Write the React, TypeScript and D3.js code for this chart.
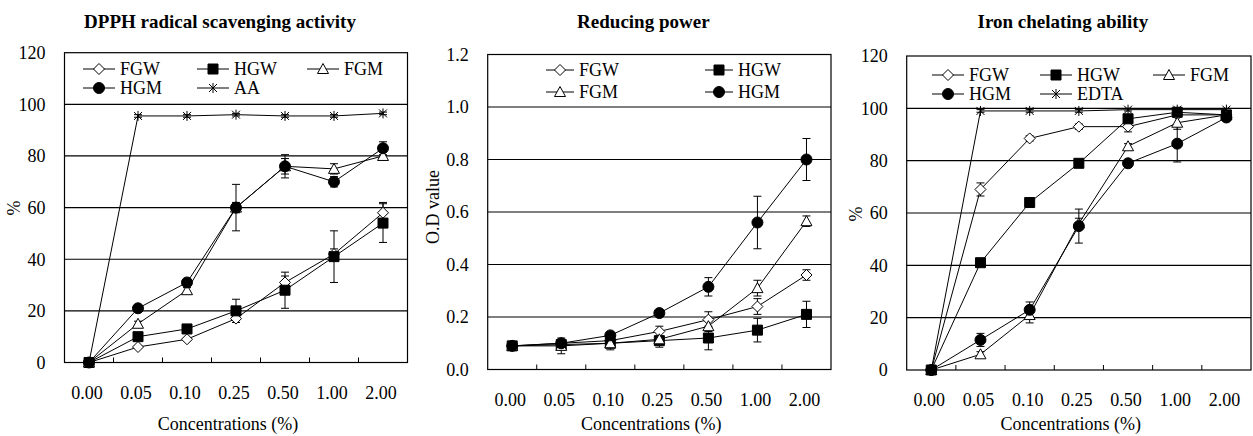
import React, { useEffect, useRef } from "react";
import * as d3 from "d3";

const concentrations = ["0.00", "0.05", "0.10", "0.25", "0.50", "1.00", "2.00"];

// DPPH radical scavenging activity (%)
const dpphFGW = [0, 6, 9, 17, 31, 42, 58];
const dpphHGW = [0, 10, 13, 20, 28, 41, 54];
const dpphFGM = [0, 15, 28, 60, 76, 75, 80];
const dpphHGM = [0, 21, 31, 60, 76, 70, 83];
const dpphAA = [0, 95.5, 95.5, 96, 95.5, 95.5, 96.5];
const dpphFGWErr = [0, 0.5, 0.5, 1.5, 2.5, 2, 4];
const dpphHGWErr = [0, 1, 1, 4.5, 7, 10, 7.5];
const dpphFGMErr = [0, 1, 1, 2, 3, 2, 1.5];
const dpphHGMErr = [0, 1, 1, 9, 4.5, 2, 2.5];
const dpphAAErr = [0, 0.5, 0.5, 0.5, 0.5, 0.5, 0.5];

// reducing power (O.D value)
const rpFGW = [0.09, 0.1, 0.11, 0.145, 0.19, 0.24, 0.36];
const rpHGW = [0.09, 0.095, 0.1, 0.11, 0.12, 0.15, 0.21];
const rpFGM = [0.09, 0.09, 0.1, 0.115, 0.165, 0.31, 0.565];
const rpHGM = [0.09, 0.1, 0.13, 0.215, 0.315, 0.56, 0.8];
const rpFGWErr = [0.01, 0.01, 0.01, 0.02, 0.03, 0.03, 0.02];
const rpHGWErr = [0.01, 0.01, 0.01, 0.01, 0.045, 0.045, 0.05];
const rpFGMErr = [0.01, 0.03, 0.025, 0.03, 0.02, 0.03, 0.02];
const rpHGMErr = [0.01, 0.01, 0.01, 0.01, 0.035, 0.1, 0.08];

// iron chelating ability (%)
const icFGW = [0, 69, 88.5, 93, 93, 97.5, 97.5];
const icHGW = [0, 41, 64, 79, 96, 98.5, 97.5];
const icFGM = [0, 6, 21, 56, 85.5, 94.5, 97.5];
const icHGM = [0, 11.5, 23, 55, 79, 86.5, 96.5];
const icEDTA = [0, 99, 99, 99, 99.5, 99.5, 99.5];
const icFGWErr = [0, 2.5, 1, 1, 2, 1, 1];
const icHGWErr = [0, 1, 1, 1, 1, 1, 1];
const icFGMErr = [0, 1, 3, 2, 1, 2.5, 1];
const icHGMErr = [0, 2.5, 3, 6.5, 1, 7, 1];
const icEDTAErr = [0, 0.5, 0.5, 0.5, 0.5, 0.5, 0.5];

const FONT = "'Liberation Serif', 'Times New Roman', serif";

const panels = [
  {
    title: "DPPH radical scavenging activity",
    yLabel: "%",
    yMax: 120,
    yStep: 20,
    yFormat: d3.format(".0f"),
    left: 64.5, right: 407.5, top: 52.7, bottom: 362.5,
    labelPos: [14, 208],
    legendCols: [83, 197, 307], legendRows: [69, 88], legendLine: 32,
    series: [
      { name: "FGW", marker: "diamond", values: dpphFGW, errors: dpphFGWErr },
      { name: "HGW", marker: "square", values: dpphHGW, errors: dpphHGWErr },
      { name: "FGM", marker: "triangle", values: dpphFGM, errors: dpphFGMErr },
      { name: "HGM", marker: "circle", values: dpphHGM, errors: dpphHGMErr },
      { name: "AA", marker: "asterisk", values: dpphAA, errors: dpphAAErr },
    ],
  },
  {
    title: "Reducing power",
    yLabel: "O.D value",
    yMax: 1.2,
    yStep: 0.2,
    yFormat: d3.format(".1f"),
    left: 487.7, right: 831, top: 54.5, bottom: 369.5,
    labelPos: [433, 207],
    legendCols: [546, 705], legendRows: [70, 92], legendLine: 28,
    series: [
      { name: "FGW", marker: "diamond", values: rpFGW, errors: rpFGWErr },
      { name: "HGW", marker: "square", values: rpHGW, errors: rpHGWErr },
      { name: "FGM", marker: "triangle", values: rpFGM, errors: rpFGMErr },
      { name: "HGM", marker: "circle", values: rpHGM, errors: rpHGMErr },
    ],
  },
  {
    title: "Iron chelating ability",
    yLabel: "%",
    yMax: 120,
    yStep: 20,
    yFormat: d3.format(".0f"),
    left: 906.7, right: 1251, top: 56, bottom: 370,
    labelPos: [856, 214],
    legendCols: [932, 1040, 1153], legendRows: [75, 94], legendLine: 32,
    series: [
      { name: "FGW", marker: "diamond", values: icFGW, errors: icFGWErr },
      { name: "HGW", marker: "square", values: icHGW, errors: icHGWErr },
      { name: "FGM", marker: "triangle", values: icFGM, errors: icFGMErr },
      { name: "HGM", marker: "circle", values: icHGM, errors: icHGMErr },
      { name: "EDTA", marker: "asterisk", values: icEDTA, errors: icEDTAErr },
    ],
  },
];

function markerPath(kind: string) {
  switch (kind) {
    case "diamond":
      return "M0,-5.5L5.5,0L0,5.5L-5.5,0Z";
    case "square":
      return "M-5,-5H5V5H-5Z";
    case "triangle":
      return "M0,-5.5L5.5,4.5H-5.5Z";
    case "circle":
      return d3.symbol(d3.symbolCircle, 95)();
    default:
      return "M-4,-4L4,4M-4,4L4,-4M0,-5V5";
  }
}

function drawMarker(g: any, kind: string, cx: number, cy: number) {
  const filled = kind === "square" || kind === "circle";
  g.append("path")
    .attr("d", markerPath(kind))
    .attr("transform", `translate(${cx},${cy})`)
    .attr("fill", filled ? "#000" : kind === "asterisk" ? "none" : "#fff")
    .attr("stroke", "#000")
    .attr("stroke-width", 1);
}

function drawPanel(svg: any, p: any) {
  const x = d3.scaleBand().domain(concentrations).range([p.left, p.right]);
  const y = d3.scaleLinear().domain([0, p.yMax]).range([p.bottom, p.top]);
  const cx = (c: string) => (x(c) as number) + x.bandwidth() / 2;
  const g = svg.append("g");
  const ticks = d3.range(0, p.yMax + p.yStep / 2, p.yStep);

  // gridlines
  g.selectAll(".grid")
    .data(ticks.slice(1, -1))
    .join("line")
    .attr("x1", p.left)
    .attr("x2", p.right)
    .attr("y1", (d: number) => y(d))
    .attr("y2", (d: number) => y(d))
    .attr("stroke", "#000")
    .attr("stroke-width", 1.2);

  g.append("rect")
    .attr("x", p.left)
    .attr("y", p.top)
    .attr("width", p.right - p.left)
    .attr("height", p.bottom - p.top)
    .attr("fill", "none")
    .attr("stroke", "#000")
    .attr("stroke-width", 1.2);

  // inward ticks between categories
  g.selectAll(".xtick")
    .data(concentrations.slice(1))
    .join("line")
    .attr("x1", (d: string) => x(d))
    .attr("x2", (d: string) => x(d))
    .attr("y1", p.bottom)
    .attr("y2", p.bottom - 5)
    .attr("stroke", "#000");

  g.selectAll(".ylab")
    .data(ticks)
    .join("text")
    .attr("x", p.left - 19)
    .attr("y", (d: number) => y(d))
    .attr("dy", "0.35em")
    .attr("text-anchor", "end")
    .attr("font-size", 18)
    .attr("font-family", FONT)
    .text((d: number) => p.yFormat(d));

  g.selectAll(".xlab")
    .data(concentrations)
    .join("text")
    .attr("x", (d: string) => cx(d) - 2)
    .attr("y", p.bottom + 36)
    .attr("text-anchor", "middle")
    .attr("font-size", 18)
    .attr("font-family", FONT)
    .text((d: string) => d);

  g.append("text")
    .attr("x", (p.left + p.right) / 2 - 8)
    .attr("y", 430)
    .attr("text-anchor", "middle")
    .attr("font-size", 18)
    .attr("font-family", FONT)
    .text("Concentrations (%)");

  g.append("text")
    .attr("x", (p.left + p.right) / 2 - 16)
    .attr("y", 28)
    .attr("text-anchor", "middle")
    .attr("font-size", 19)
    .attr("font-weight", "bold")
    .attr("font-family", FONT)
    .text(p.title);

  g.append("text")
    .attr("transform", `translate(${p.labelPos[0]},${p.labelPos[1]}) rotate(-90)`)
    .attr("text-anchor", "middle")
    .attr("dy", "0.35em")
    .attr("font-size", 18)
    .attr("font-family", FONT)
    .text(p.yLabel);

  const line = d3
    .line<number>()
    .x((_, i) => cx(concentrations[i]))
    .y((d) => y(d));

  p.series.forEach((s: any) => {
    g.append("path")
      .attr("d", line(s.values))
      .attr("fill", "none")
      .attr("stroke", "#000")
      .attr("stroke-width", 1);
  });

  p.series.forEach((s: any) => {
    s.values.forEach((v: number, i: number) => {
      const e = s.errors[i];
      if (!e) return;
      const px = cx(concentrations[i]);
      const eg = g.append("g").attr("stroke", "#000").attr("stroke-width", 1);
      eg.append("line").attr("x1", px).attr("x2", px).attr("y1", y(v - e)).attr("y2", y(v + e));
      eg.append("line").attr("x1", px - 4).attr("x2", px + 4).attr("y1", y(v - e)).attr("y2", y(v - e));
      eg.append("line").attr("x1", px - 4).attr("x2", px + 4).attr("y1", y(v + e)).attr("y2", y(v + e));
    });
  });

  p.series.forEach((s: any) => {
    s.values.forEach((v: number, i: number) => {
      drawMarker(g, s.marker, cx(concentrations[i]), y(v));
    });
  });

  // legend
  const nCols = p.legendCols.length;
  p.series.forEach((s: any, i: number) => {
    const lx = p.legendCols[i % nCols];
    const ly = p.legendRows[Math.floor(i / nCols)];
    g.append("line")
      .attr("x1", lx)
      .attr("x2", lx + p.legendLine)
      .attr("y1", ly)
      .attr("y2", ly)
      .attr("stroke", "#000");
    drawMarker(g, s.marker, lx + p.legendLine / 2, ly);
    g.append("text")
      .attr("x", lx + p.legendLine + 5)
      .attr("y", ly)
      .attr("dy", "0.35em")
      .attr("font-size", 18)
      .attr("font-family", FONT)
      .text(s.name);
  });
}

const App = () => {
  const ref = useRef<SVGSVGElement>(null);

  useEffect(() => {
    const svg = d3.select(ref.current);
    svg.selectAll("*").remove();
    svg.append("rect").attr("width", 1253).attr("height", 436).attr("fill", "#fff");
    panels.forEach((p) => drawPanel(svg, p));
  }, []);

  return (
    <svg
      ref={ref}
      width={1253}
      height={436}
      style={{ position: "absolute", left: 0, top: 0 }}
    ></svg>
  );
};

export default App;
